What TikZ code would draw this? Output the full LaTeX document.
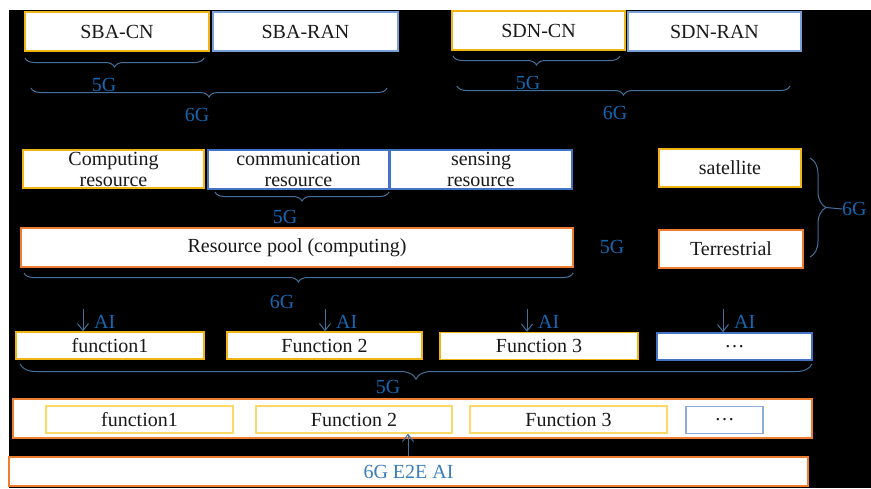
\documentclass[tikz,border=0pt]{standalone}
\usepackage{fontspec}
\setmainfont{Liberation Serif}
\usetikzlibrary{decorations.pathreplacing,arrows.meta}

\definecolor{boxgold}{RGB}{240,180,20}
\definecolor{boxorange}{RGB}{237,125,49}
\definecolor{boxblue}{RGB}{68,114,196}
\definecolor{boxlblue}{RGB}{120,160,215}
\definecolor{innergold}{RGB}{255,217,102}
\definecolor{innerblue}{RGB}{143,170,220}
\definecolor{bracecol}{RGB}{65,113,156}
\definecolor{gencol}{RGB}{22,102,176}
\definecolor{textcol}{RGB}{25,25,25}

\begin{document}
\begin{tikzpicture}[x=1pt,y=-1pt,
  box/.style={draw,fill=white,line width=1.4pt,inner sep=0pt,text=textcol,
    align=center,font=\fontsize{20}{21}\selectfont},
  gbox/.style={box,draw=boxgold},
  obox/.style={box,draw=boxorange},
  bbox/.style={box,draw=boxblue},
  lbbox/.style={box,draw=boxlblue},
  igbox/.style={box,draw=innergold,minimum height=27pt},
  ibbox/.style={box,draw=innerblue,minimum height=27pt},
  gen/.style={text=gencol,inner sep=0pt,font=\fontsize{20}{21}\selectfont},
  gbrace/.style={draw=bracecol,line width=1pt,decorate,
    decoration={brace,mirror,amplitude=#1}},
  gbrace/.default=9pt,
  sidebrace/.style={draw=bracecol,line width=1pt,decorate,
    decoration={brace,amplitude=16pt}},
  aiarrow/.style={draw=bracecol,line width=1pt,-{Straight Barb[length=7pt,width=11pt]}}]

\useasboundingbox (0,0) rectangle (871,488);
\fill[black] (9,10) rectangle (871,488);

% top row: SBA and SDN
\node[gbox,minimum width=184pt,minimum height=39pt] (sbacn) at (117,31.5) {SBA-CN};
\node[lbbox,minimum width=185pt,minimum height=39pt] (sbaran) at (305.5,31.5) {SBA-RAN};
\node[gbox,minimum width=173pt,minimum height=39pt] (sdncn) at (538.5,30.5) {SDN-CN};
\node[lbbox,minimum width=173pt,minimum height=39pt] (sdnran) at (714.5,31.5) {SDN-RAN};

\draw[gbrace] (25,58) -- (204,58);
\node[gen] (g1) at (104,85) {5G};
\draw[gbrace] (31,88) -- (387,88);
\node[gen] (g2) at (197,115) {6G};
\draw[gbrace] (453,56) -- (620,56);
\node[gen] (g3) at (528,83) {5G};
\draw[gbrace] (457,86) -- (790,86);
\node[gen] (g4) at (615,113) {6G};

% resources
\node[gbox,minimum width=181pt,minimum height=38pt] (comp) at (113.5,169) {Computing\\resource};
\node[bbox,minimum width=181pt,minimum height=39pt] (comm) at (298.5,169.5) {communication\\resource};
\node[bbox,minimum width=182pt,minimum height=39pt] (sens) at (481,169.5) {sensing\\resource};
\node[gbox,minimum width=142pt,minimum height=38pt] (sat) at (730,168) {satellite};

\draw[gbrace] (215,192) -- (389,192);
\node[gen] (g5) at (285,217) {5G};

\node[obox,minimum width=552pt,minimum height=39pt] (pool) at (297,247.5) {Resource pool (computing)};
\node[obox,minimum width=144pt,minimum height=38pt] (terr) at (731,249) {Terrestrial};
\node[gen] (g6) at (612,247) {5G};

\draw[gbrace] (24,273) -- (573,273);
\node[gen] (g7) at (282,302) {6G};
\coordinate (s1) at (810,158);
\coordinate (s2) at (810,257);
\draw[sidebrace] (s1) -- (s2);
\node[gen,anchor=west] (g8) at (842,209) {6G};
\draw[draw=bracecol,line width=1pt] (826,207.5) -- (g8.west);

% functions with AI
\node[gbox,minimum width=188pt,minimum height=27pt] (fun1) at (110,345.5) {function1};
\node[gbox,minimum width=195pt,minimum height=27pt] (fun2) at (324.5,345.5) {Function 2};
\node[gbox,minimum width=198pt,minimum height=27pt] (fun3) at (539,346) {Function 3};
\node[bbox,minimum width=155pt,minimum height=27pt] (fun4) at (734.5,346.5) {\dots};

\foreach \n/\x in {1/83,2/325,3/527,4/723}{
  \coordinate (a\n) at (\x,309);
  \draw[aiarrow] (a\n) -- (a\n |- fun\n.north);
  \node[gen,anchor=west] (ai\n) at (\x+11,322) {AI};
}

\draw[gbrace=15pt] (20,364) -- (812,364);
\node[gen] (g9) at (388,387) {5G};

% E2E layer
\node[obox,minimum width=799pt,minimum height=39pt] (layer) at (412.5,418.5) {};
\node[igbox,minimum width=187pt] (ifun1) at (139.5,419.5) {function1};
\node[igbox,minimum width=196pt] (ifun2) at (354,419.5) {Function 2};
\node[igbox,minimum width=197pt] (ifun3) at (568.5,419.5) {Function 3};
\node[ibbox,minimum width=77pt] (ifun4) at (724.5,420) {\dots};

\node[obox,minimum width=799pt,minimum height=29pt,text=gencol!85!white] (e2e) at (408.5,471.5) {6G E2E AI};

\coordinate (up) at (408,0);
\draw[aiarrow] (up |- e2e.north) -- (up |- ifun2.south);
\end{tikzpicture}
\end{document}
